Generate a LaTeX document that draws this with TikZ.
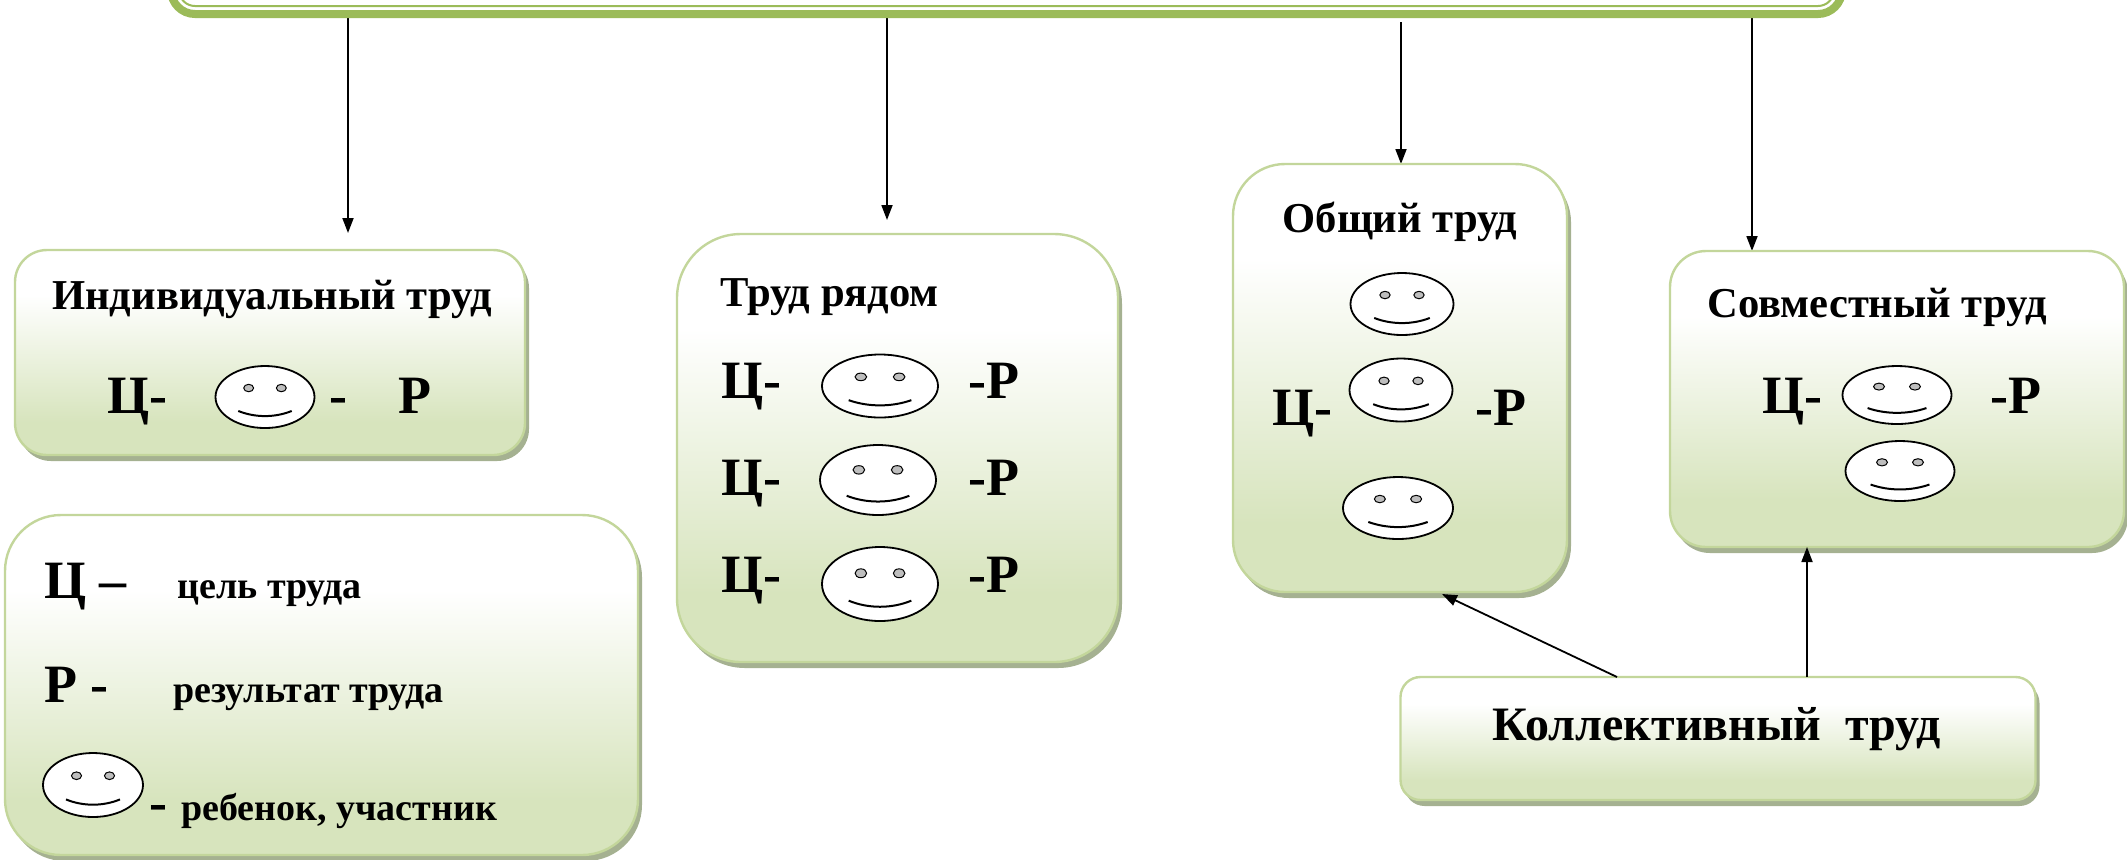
\documentclass[tikz,border=0pt]{standalone}
\usepackage{fontspec}
\setmainfont{Liberation Serif}
\usetikzlibrary{arrows.meta,shadows,backgrounds,calc}
\definecolor{tgreen}{HTML}{9BBB59}
\definecolor{bord}{HTML}{C3D69B}
\definecolor{bgreen}{HTML}{D7E4BD}
\definecolor{shadc}{HTML}{A5B191}
\definecolor{eyegray}{HTML}{BEBEBE}
\pgfdeclareverticalshading{boxshade}{100bp}{color(0bp)=(bgreen); color(25bp)=(bgreen); color(33bp)=(bgreen); color(64bp)=(white); color(75bp)=(white); color(100bp)=(white)}
\tikzset{
  gbox/.style={draw=bord, line width=1.2pt, shading=boxshade, rounded corners=#1,
    inner sep=0pt, outer sep=0pt,
    drop shadow={shadow xshift=2pt, shadow yshift=-3pt, fill=shadc, opacity=1}},
  topbox/.style={draw=tgreen, line width=4pt, fill=white, rounded corners=12pt, inner sep=0pt, outer sep=0pt},
  arr/.style={-{Triangle[length=7.5pt,width=5.5pt]}, line width=0.9pt, black},
  head/.style={font=\bfseries\fontsize{21.3pt}{25pt}\selectfont, inner sep=0pt, anchor=base},
  headw/.style={head, anchor=base west},
  kol/.style={font=\bfseries\fontsize{24pt}{28pt}\selectfont, inner sep=0pt, anchor=base},
  big/.style={font=\bfseries\fontsize{27pt}{32pt}\selectfont, inner sep=0pt, anchor=base west},
  small/.style={font=\bfseries\fontsize{19pt}{23pt}\selectfont, inner sep=0pt, anchor=base west},
  smiley/.pic={
    \draw[line width=0.9pt, fill=white] (0,0) ellipse [x radius=1, y radius=1];
    \draw[line width=0.5pt, fill=eyegray] (-0.33,-0.29) ellipse [x radius=0.1, y radius=0.12];
    \draw[line width=0.5pt, fill=eyegray] (0.33,-0.29) ellipse [x radius=0.1, y radius=0.12];
    \draw[line width=1pt] (-0.54,0.45) .. controls (-0.2,0.67) and (0.2,0.67) .. (0.54,0.45);
  }
}
\begin{document}
\begin{tikzpicture}[x=0.5pt, y=-0.5pt]
\useasboundingbox (0,0) rectangle (2127,859);

% top box
\node[topbox, minimum width=835.5pt, minimum height=60pt, anchor=south] (top) at (1006.5,14) {};
\draw[tgreen, line width=1pt, rounded corners=8pt] ([shift={(4pt,4pt)}]top.south west) rectangle ([shift={(-4pt,0pt)}]top.north east);

% boxes
\node[gbox=16pt, minimum width=255pt, minimum height=102.5pt] (ind) at (270,352.5) {};
\node[gbox=28pt, minimum width=316.5pt, minimum height=170pt] (leg) at (321.5,685) {};
\node[gbox=32pt, minimum width=220.5pt, minimum height=214pt] (ryad) at (897.5,448) {};
\node[gbox=26pt, minimum width=167pt, minimum height=214pt] (obsh) at (1400,378) {};
\node[gbox=18pt, minimum width=227pt, minimum height=148pt] (sovm) at (1897,399) {};
\node[gbox=10pt, minimum width=317.5pt, minimum height=61.5pt] (koll) at (1718,738.5) {};

% arrows from top box
\begin{pgfonlayer}{background}
\coordinate (a1) at ([shift={(39pt,8.5pt)}]ind.north);
\coordinate (a2) at ([shift={(-5.25pt,7pt)}]ryad.north);
\coordinate (a3) at ([shift={(0.5pt,0pt)}]obsh.north);
\coordinate (a4) at ([shift={(-72.5pt,0pt)}]sovm.north);
\draw[arr] (top.south -| a1) -- (a1);
\draw[arr] (top.south -| a2) -- (a2);
\draw[arr] ([yshift=-4pt]top.south -| a3) -- (a3);
\draw[arr] (top.south -| a4) -- (a4);
\end{pgfonlayer}

% arrows from Коллективный труд
\coordinate (k1) at ([xshift=-50.5pt]koll.north);
\coordinate (k2) at ([xshift=44.5pt]koll.north);
\draw[arr] (k1) -- ([xshift=21pt,yshift=-1pt]obsh.south);
\draw[arr] (k2) -- (sovm.south -| k2);

% Индивидуальный труд
\node[head] (tind) at (272,309) {Индивидуальный труд};
\node[big] (ind1) at (107,413) {Ц-};
\pic[xscale=49.5, yscale=31] at (265,397) {smiley};
\node[big] (ind2) at (329,413) {-};
\node[big] (ind3) at (398,413) {Р};

% Труд рядом
\node[headw] (tryad) at (720,306) {Труд рядом};
\node[big] (r1a) at (721,398) {Ц-};
\pic[xscale=58, yscale=31.5] at (880,386) {smiley};
\node[big] (r1b) at (968,398) {-Р};
\node[big] (r2a) at (721,495) {Ц-};
\pic[xscale=58, yscale=35] at (878,480) {smiley};
\node[big] (r2b) at (968,495) {-Р};
\node[big] (r3a) at (721,592) {Ц-};
\pic[xscale=58, yscale=37] at (880,584) {smiley};
\node[big] (r3b) at (968,592) {-Р};

% Общий труд
\node[head] (tobsh) at (1400,232) {Общий труд};
\pic[xscale=51.5, yscale=31] at (1402,304) {smiley};
\pic[xscale=51.5, yscale=31.5] at (1401,390) {smiley};
\pic[xscale=55, yscale=31] at (1398,508) {smiley};
\node[big] (o1) at (1272,425) {Ц-};
\node[big] (o2) at (1475,425) {-Р};

% Совместный труд
\node[headw] (tsovm) at (1707,317) {Совместный труд};
\node[big] (s1) at (1762,413) {Ц-};
\pic[xscale=54.5, yscale=29] at (1897,395) {smiley};
\node[big] (s2) at (1990,413) {-Р};
\pic[xscale=54.5, yscale=30] at (1900,471) {smiley};

% Коллективный труд
\node[kol] (tkoll) at (1717,740) {Коллективный\ \ труд};

% legend
\node[big] (l1) at (44,598) {Ц –};
\node[small] (l1t) at (177,598) {цель труда};
\node[big] (l2) at (44,702) {Р -};
\node[small] (l2t) at (173,702) {результат труда};
\pic[xscale=50, yscale=32] at (93,785) {smiley};
\node[big] (l3) at (149,820) {-};
\node[small] (l3t) at (181,820) {ребенок, участник};
\end{tikzpicture}
\end{document}
